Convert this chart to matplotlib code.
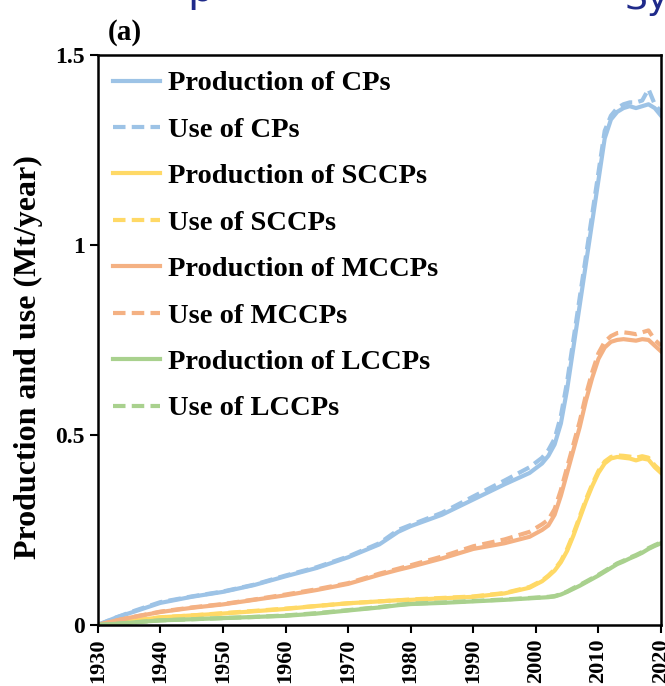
import numpy as np
import matplotlib
matplotlib.use("Agg")
import matplotlib.pyplot as plt

plt.rcParams["font.family"] = ["Liberation Serif", "DejaVu Serif"]
plt.rcParams["font.weight"] = "bold"

years = [1930, 1933, 1936, 1940, 1945, 1950, 1955, 1960, 1965, 1970, 1975, 1978,
         1980, 1985, 1990, 1995, 1999, 2001, 2002, 2003, 2004, 2005, 2006, 2007,
         2008, 2009, 2010, 2011, 2012, 2013, 2014, 2015, 2016, 2017, 2018, 2019, 2020]

# Mt/year
prod_cp = [0, 0.02, 0.036, 0.058, 0.074, 0.087, 0.105, 0.128, 0.15, 0.178, 0.212, 0.245,
           0.26, 0.29, 0.33, 0.37, 0.40, 0.425, 0.445, 0.475, 0.53, 0.62, 0.73, 0.84,
           0.95, 1.06, 1.17, 1.28, 1.33, 1.35, 1.36, 1.365, 1.36, 1.365, 1.37, 1.36, 1.34]
use_cp = [0, 0.02, 0.038, 0.06, 0.075, 0.088, 0.106, 0.13, 0.152, 0.18, 0.215, 0.25,
          0.263, 0.295, 0.338, 0.38, 0.415, 0.44, 0.46, 0.49, 0.55, 0.64, 0.75, 0.86,
          0.97, 1.08, 1.19, 1.30, 1.34, 1.36, 1.37, 1.375, 1.375, 1.38, 1.41, 1.37, 1.35]
prod_sccp = [0, 0.006, 0.012, 0.02, 0.025, 0.03, 0.036, 0.042, 0.05, 0.057, 0.062, 0.065,
             0.066, 0.07, 0.074, 0.083, 0.098, 0.115, 0.128, 0.143, 0.165, 0.195, 0.235, 0.28,
             0.325, 0.365, 0.40, 0.425, 0.438, 0.442, 0.44, 0.438, 0.433, 0.438, 0.435, 0.415, 0.40]
use_sccp = [0, 0.006, 0.012, 0.02, 0.025, 0.031, 0.037, 0.043, 0.05, 0.057, 0.062, 0.065,
            0.067, 0.071, 0.075, 0.084, 0.1, 0.117, 0.13, 0.146, 0.168, 0.2, 0.24, 0.285,
            0.33, 0.37, 0.405, 0.43, 0.442, 0.446, 0.445, 0.443, 0.44, 0.444, 0.44, 0.42, 0.405]
prod_mccp = [0, 0.012, 0.022, 0.034, 0.045, 0.054, 0.066, 0.078, 0.092, 0.108, 0.132, 0.145,
             0.153, 0.175, 0.20, 0.215, 0.232, 0.25, 0.262, 0.29, 0.34, 0.40, 0.46, 0.52,
             0.59, 0.65, 0.70, 0.73, 0.745, 0.75, 0.752, 0.75, 0.748, 0.752, 0.75, 0.735, 0.72]
use_mccp = [0, 0.012, 0.022, 0.035, 0.046, 0.055, 0.067, 0.08, 0.094, 0.11, 0.135, 0.148,
            0.157, 0.18, 0.207, 0.225, 0.245, 0.265, 0.277, 0.305, 0.355, 0.415, 0.475, 0.535,
            0.605, 0.665, 0.715, 0.745, 0.76, 0.768, 0.77, 0.768, 0.765, 0.77, 0.775, 0.75, 0.735]
prod_lccp = [0, 0.003, 0.007, 0.012, 0.015, 0.018, 0.021, 0.024, 0.03, 0.038, 0.046, 0.052,
             0.055, 0.058, 0.062, 0.066, 0.07, 0.072, 0.073, 0.075, 0.08, 0.087, 0.095, 0.103,
             0.112, 0.121, 0.13, 0.14, 0.15, 0.16, 0.167, 0.175, 0.182, 0.19, 0.20, 0.208, 0.215]
use_lccp = [0, 0.003, 0.007, 0.012, 0.015, 0.018, 0.021, 0.025, 0.031, 0.039, 0.047, 0.053,
            0.056, 0.059, 0.063, 0.067, 0.071, 0.073, 0.074, 0.076, 0.081, 0.088, 0.097, 0.105,
            0.114, 0.123, 0.132, 0.142, 0.152, 0.162, 0.169, 0.177, 0.184, 0.192, 0.202, 0.21, 0.217]

series = [
    ("Production of CPs", prod_cp, "#9dc3e6", "-"),
    ("Use of CPs", use_cp, "#9dc3e6", "--"),
    ("Production of SCCPs", prod_sccp, "#ffd966", "-"),
    ("Use of SCCPs", use_sccp, "#ffd966", "--"),
    ("Production of MCCPs", prod_mccp, "#f4b183", "-"),
    ("Use of MCCPs", use_mccp, "#f4b183", "--"),
    ("Production of LCCPs", prod_lccp, "#a9d18e", "-"),
    ("Use of LCCPs", use_lccp, "#a9d18e", "--"),
]

x_ticks = list(range(1930, 2021, 10))
y_ticks = [0, 0.5, 1, 1.5]
y_ticklabels = ["0", "0.5", "1", "1.5"]

fig = plt.figure(figsize=(6.65, 6.86), dpi=100)
ax = fig.add_axes([0.147, 0.089, 0.847, 0.831])

for label, vals, color, ls in series:
    ax.plot(years, vals, color=color, ls=ls, lw=3, label=label,
            dashes=(3, 1.5) if ls == "--" else (None, None))

ax.set_xlim(1930, 2020)
ax.set_ylim(0, 1.5)
ax.set_xticks(x_ticks)
ax.set_xticklabels([str(t) for t in x_ticks], rotation=90, fontsize=16, fontweight="bold")
ax.set_yticks(y_ticks)
ax.set_yticklabels(y_ticklabels, fontsize=17, fontweight="bold")
ax.tick_params(direction="out", length=6, width=1.5)
for sp in ax.spines.values():
    sp.set_linewidth(1.8)
ax.set_ylabel("Production and use (Mt/year)", fontsize=23, fontweight="bold")
ax.yaxis.set_label_coords(-0.097, 0.47)

leg = ax.legend(loc="upper left", frameon=False, handlelength=1.65,
                handletextpad=0.25, labelspacing=0.72, borderaxespad=0.15,
                prop={"weight": "bold", "size": 20.5})

fig.text(0.162, 1 - 33 / 686, "(a)", fontsize=21, fontweight="bold", ha="left", va="center")
# clipped slide title fragments at the very top
fig.text(200 / 665, 1 - 1 / 686, "p", fontsize=30, color="#1f2a8a", ha="center",
         va="baseline", fontweight="normal", family="DejaVu Sans")
fig.text(625 / 665, 1 - 9 / 686, "Sy", fontsize=26, color="#1f2a8a", ha="left",
         va="baseline", fontweight="normal", family="DejaVu Sans")

fig.savefig("out.png", dpi=100)
